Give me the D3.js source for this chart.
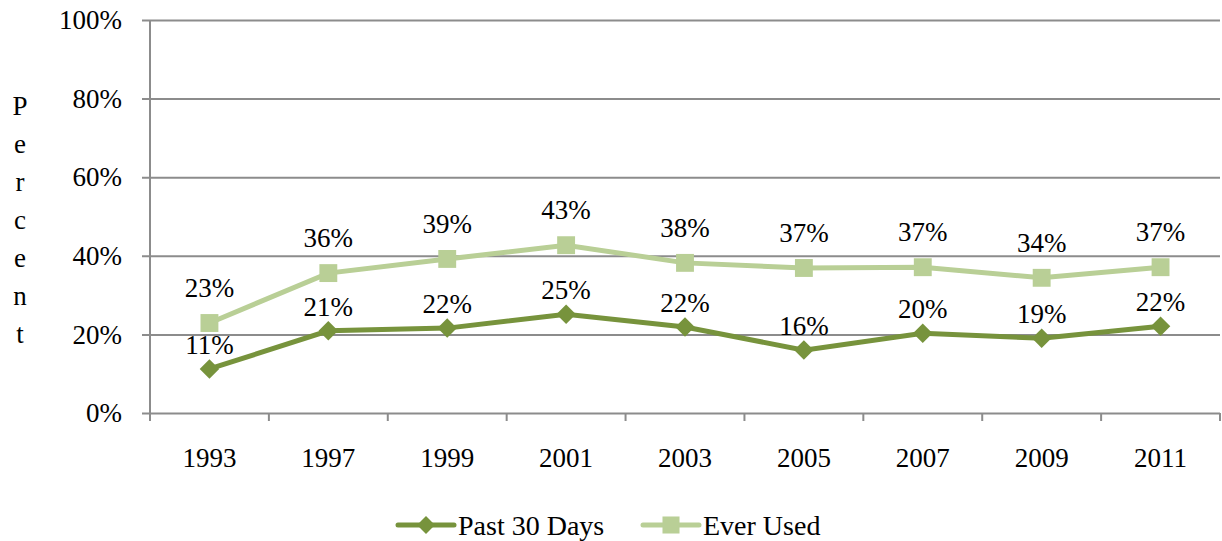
<!DOCTYPE html>
<html>
<head>
<meta charset="utf-8">
<script src="https://cdn.jsdelivr.net/npm/d3@7"></script>
<style>
  body { margin: 0; background: #fff; }
</style>
</head>
<body>
<div id="chart"></div>
<script>
const years = ['1993', '1997', '1999', '2001', '2003', '2005', '2007', '2009', '2011'];
const past30 = [11.2, 20.9, 21.6, 25.1, 21.9, 16.0, 20.3, 19.0, 22.1];
const everUsed = [22.9, 35.6, 39.2, 42.7, 38.2, 36.9, 37.1, 34.4, 37.1];
const yTicks = [0, 20, 40, 60, 80, 100];
const yTitle = 'Percent';

const width = 1222, height = 541;
const margin = { left: 150, right: 2, top: 20, bottom: 128 };
const serif = '"Liberation Serif", "Times New Roman", serif';
const fontSize = '27px';

const svg = d3.select('#chart').append('svg')
  .attr('width', width)
  .attr('height', height)
  .style('font-family', serif);

const x = d3.scaleBand()
  .domain(years)
  .range([margin.left, width - margin.right]);

const y = d3.scaleLinear()
  .domain([0, 100])
  .range([height - margin.bottom, margin.top]);

// gridlines + y axis labels
const yAxis = d3.axisLeft(y)
  .tickValues(yTicks)
  .tickFormat(d => d + '%');

const gy = svg.append('g')
  .attr('transform', `translate(${margin.left},0)`)
  .call(yAxis)
  .attr('font-family', null)
  .attr('font-size', null);
gy.select('.domain').remove();
gy.selectAll('.tick line')
  .attr('stroke', '#8c8c8c')
  .attr('stroke-width', 2)
  .attr('x2', width - margin.right - margin.left)
  .attr('x1', -8);
gy.selectAll('.tick text')
  .attr('x', -28)
  .style('font-family', serif)
  .style('font-size', fontSize)
  .attr('fill', '#000');

// vertical axis line
svg.append('line')
  .attr('x1', margin.left).attr('x2', margin.left)
  .attr('y1', y(100)).attr('y2', y(0) + 8)
  .attr('stroke', '#8c8c8c').attr('stroke-width', 2);

// x axis
const gx = svg.append('g')
  .attr('transform', `translate(0,${y(0)})`)
  .call(d3.axisBottom(x).tickSize(0).tickPadding(35))
  .attr('font-family', null)
  .attr('font-size', null);
gx.select('.domain').remove();
gx.selectAll('.tick text')
  .style('font-family', serif)
  .style('font-size', fontSize)
  .attr('fill', '#000');

const bounds = years.map(d => x(d)).concat([x(years[years.length - 1]) + x.bandwidth()]);
svg.append('g').selectAll('line')
  .data(bounds)
  .join('line')
  .attr('x1', d => d).attr('x2', d => d)
  .attr('y1', y(0)).attr('y2', y(0) + 8)
  .attr('stroke', '#8c8c8c').attr('stroke-width', 2);

// y title, stacked letters
svg.append('g').selectAll('text')
  .data(yTitle.split(''))
  .join('text')
  .attr('x', 20)
  .attr('y', (d, i) => 115 + i * 38)
  .attr('text-anchor', 'middle')
  .style('font-size', fontSize)
  .text(d => d);

const cx = d => x(d) + x.bandwidth() / 2;
const line = d3.line().x(d => cx(d[0])).y(d => y(d[1]));

const square = d3.symbol().type(d3.symbolSquare).size(320);
const diamond = d3.symbol().type(d3.symbolSquare).size(190);

const series = [
  { name: 'Ever Used', values: everUsed, color: '#b9cf96', shape: 'square', labelDy: -26 },
  { name: 'Past 30 Days', values: past30, color: '#77933c', shape: 'diamond', labelDy: -15 }
];

series.forEach(s => {
  const pts = years.map((yr, i) => [yr, s.values[i]]);
  svg.append('path')
    .datum(pts)
    .attr('fill', 'none')
    .attr('stroke', s.color)
    .attr('stroke-width', 5)
    .attr('d', line);

  svg.append('g').selectAll('path')
    .data(pts)
    .join('path')
    .attr('transform', d => `translate(${cx(d[0])},${y(d[1])})` + (s.shape === 'diamond' ? ' rotate(45)' : ''))
    .attr('d', s.shape === 'square' ? square : diamond)
    .attr('fill', s.color);
});

// data labels drawn on top
series.forEach(s => {
  svg.append('g').selectAll('text')
    .data(years.map((yr, i) => [yr, s.values[i]]))
    .join('text')
    .attr('x', d => cx(d[0]))
    .attr('y', d => y(d[1]) + s.labelDy)
    .attr('text-anchor', 'middle')
    .style('font-size', fontSize)
    .text(d => Math.round(d[1]) + '%');
});

// legend
const legendItems = [
  { name: 'Past 30 Days', color: '#77933c', shape: 'diamond', x: 398 },
  { name: 'Ever Used', color: '#b9cf96', shape: 'square', x: 643 }
];
const lg = svg.append('g').selectAll('g')
  .data(legendItems)
  .join('g')
  .attr('transform', d => `translate(${d.x},525)`);
lg.append('line')
  .attr('x1', 0).attr('x2', 56)
  .attr('stroke', d => d.color)
  .attr('stroke-width', 5)
  .attr('stroke-linecap', 'round');
lg.append('path')
  .attr('transform', d => 'translate(28,0)' + (d.shape === 'diamond' ? ' rotate(45)' : ''))
  .attr('d', d => d.shape === 'square'
    ? d3.symbol().type(d3.symbolSquare).size(290)()
    : d3.symbol().type(d3.symbolSquare).size(160)())
  .attr('fill', d => d.color);
lg.append('text')
  .attr('x', 60)
  .attr('y', 10)
  .style('font-size', '28px')
  .text(d => d.name);
</script>
</body>
</html>
